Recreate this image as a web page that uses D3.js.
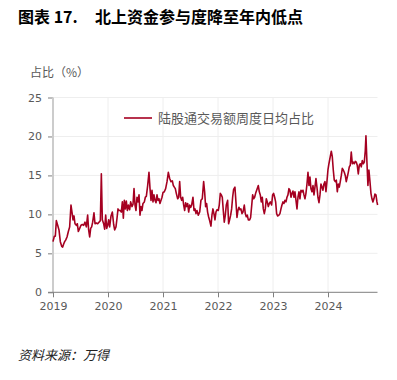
<!DOCTYPE html>
<html lang="zh-CN">
<head>
<meta charset="UTF-8">
<title>北上资金参与度降至年内低点</title>
<script src="https://cdn.jsdelivr.net/npm/d3@7/dist/d3.min.js"></script>
<style>
  html, body { margin: 0; padding: 0; background: #fff; }
  svg { display: block; }
  .tick text { font-family: "DejaVu Sans", sans-serif; font-size: 11px; fill: #595959; }
</style>
</head>
<body>
<svg id="chart" width="397" height="380"></svg>
<script>
// 年份标签
var yearTicks = [2019, 2020, 2021, 2022, 2023, 2024]
var yTicks = [0, 5, 10, 15, 20, 25]

// 周度时间（距 2019 年初的年数）
var tYears = [
  0.000, 0.024, 0.042, 0.061, 0.085, 0.109, 0.133, 0.158, 0.176, 0.194,
  0.212, 0.230, 0.255, 0.279, 0.303, 0.327, 0.345, 0.364, 0.382, 0.400,
  0.424, 0.442, 0.461, 0.485, 0.509, 0.533, 0.558, 0.582, 0.606, 0.630,
  0.648, 0.667, 0.685, 0.703, 0.721, 0.745, 0.764, 0.788, 0.812, 0.836,
  0.861, 0.879, 0.897, 0.921, 0.939, 0.958, 0.976, 0.994, 1.012, 1.030,
  1.055, 1.079, 1.103, 1.121, 1.145, 1.164, 1.182, 1.200, 1.224, 1.242,
  1.261, 1.279, 1.297, 1.315, 1.333, 1.352, 1.370, 1.394, 1.412, 1.436,
  1.455, 1.473, 1.491, 1.509, 1.527, 1.545, 1.564, 1.582, 1.600, 1.618,
  1.636, 1.661, 1.679, 1.697, 1.721, 1.745, 1.764, 1.782, 1.800, 1.818,
  1.836, 1.855, 1.873, 1.891, 1.909, 1.927, 1.945, 1.964, 1.982, 2.000,
  2.024, 2.048, 2.073, 2.097, 2.121, 2.145, 2.170, 2.188, 2.206, 2.224,
  2.242, 2.267, 2.285, 2.303, 2.321, 2.339, 2.358, 2.376, 2.394, 2.412,
  2.430, 2.448, 2.467, 2.485, 2.503, 2.521, 2.545, 2.564, 2.582, 2.600,
  2.618, 2.642, 2.667, 2.690, 2.714, 2.739, 2.757, 2.775, 2.793, 2.811,
  2.829, 2.848, 2.872, 2.890, 2.908, 2.926, 2.945, 2.963, 2.981, 3.005,
  3.023, 3.042, 3.060, 3.078, 3.096, 3.114, 3.133, 3.151, 3.175, 3.193,
  3.211, 3.230, 3.248, 3.266, 3.284, 3.308, 3.326, 3.345, 3.363, 3.381,
  3.399, 3.417, 3.436, 3.454, 3.478, 3.496, 3.514, 3.533, 3.551, 3.575,
  3.593, 3.611, 3.630, 3.648, 3.666, 3.684, 3.708, 3.733, 3.751, 3.769,
  3.787, 3.805, 3.824, 3.842, 3.860, 3.878, 3.896, 3.915, 3.933, 3.951,
  3.975, 3.993, 4.011, 4.030, 4.048, 4.066, 4.084, 4.108, 4.126, 4.145,
  4.163, 4.181, 4.199, 4.217, 4.236, 4.254, 4.272, 4.290, 4.308, 4.327,
  4.345, 4.363, 4.381, 4.399, 4.418, 4.436, 4.454, 4.472, 4.490, 4.508,
  4.527, 4.545, 4.563, 4.581, 4.599, 4.618, 4.636, 4.654, 4.672, 4.690,
  4.708, 4.727, 4.745, 4.763, 4.781, 4.799, 4.817, 4.836, 4.854, 4.872,
  4.890, 4.908, 4.926, 4.945, 4.963, 4.981, 4.999, 5.017, 5.041, 5.060,
  5.078, 5.096, 5.114, 5.132, 5.151, 5.169, 5.187, 5.205, 5.223, 5.242,
  5.260, 5.278, 5.296, 5.314, 5.332, 5.351, 5.369, 5.387, 5.405, 5.423,
  5.442, 5.460, 5.478, 5.496, 5.514, 5.532, 5.551, 5.569, 5.587, 5.605,
  5.623, 5.642, 5.660, 5.678, 5.690, 5.708, 5.726, 5.744, 5.763, 5.781,
  5.799, 5.817, 5.835, 5.853, 5.872, 5.890, 5.902
]

// 陆股通交易额周度日均占比（%）
var shareVals = [
  6.5, 7.2, 7.2, 9.2, 8.6, 8.0, 6.5, 5.9, 5.8, 6.2,
  6.5, 6.7, 7.1, 7.8, 8.4, 11.2, 10.3, 9.3, 9.8, 8.8,
  8.6, 8.8, 7.8, 8.2, 8.6, 8.7, 8.6, 9.0, 8.4, 9.9,
  8.0, 7.1, 8.2, 8.4, 9.0, 10.2, 8.8, 8.9, 8.8, 9.0,
  9.2, 15.2, 9.3, 8.8, 8.1, 9.9, 8.2, 8.6, 9.3, 8.4,
  9.8, 10.3, 8.7, 8.0, 8.4, 9.5, 10.7, 10.5, 10.5, 10.3,
  11.6, 9.5, 11.8, 10.7, 11.7, 10.5, 11.2, 10.6, 11.6, 11.0,
  11.3, 13.3, 11.2, 10.5, 12.2, 11.6, 12.5, 9.9, 11.0, 10.5,
  11.4, 11.6, 12.2, 12.3, 13.7, 15.4, 13.3, 11.8, 13.1, 11.6,
  12.5, 11.8, 11.5, 12.5, 11.8, 12.0, 11.4, 11.8, 12.2, 12.8,
  12.9, 13.3, 14.2, 15.4, 14.6, 14.2, 14.3, 13.7, 13.5, 13.3,
  12.7, 12.0, 12.2, 14.2, 12.2, 11.8, 12.2, 11.2, 10.5, 11.5,
  11.0, 11.4, 10.3, 11.2, 10.9, 11.2, 12.2, 10.5, 10.7, 10.1,
  10.5, 9.9, 10.3, 11.8, 12.0, 14.2, 12.9, 11.0, 11.4, 10.3,
  9.7, 9.2, 8.5, 9.9, 10.7, 10.1, 9.3, 10.3, 10.6, 10.5,
  11.2, 12.7, 12.5, 12.2, 10.5, 9.0, 9.9, 11.2, 11.8, 8.8,
  9.3, 9.9, 10.7, 12.2, 13.2, 13.5, 11.6, 9.6, 10.5, 10.9,
  10.6, 10.7, 10.1, 10.3, 11.2, 10.1, 9.7, 9.9, 9.3, 9.3,
  9.6, 11.0, 12.5, 12.0, 12.2, 12.7, 13.2, 13.7, 12.9, 12.5,
  11.6, 12.2, 10.7, 10.1, 10.7, 12.0, 11.6, 11.0, 11.4, 11.6,
  11.2, 12.5, 12.7, 12.2, 11.6, 10.1, 9.8, 9.9, 10.1, 10.7,
  11.2, 11.6, 11.4, 11.8, 11.6, 12.2, 12.5, 13.3, 13.1, 12.2,
  12.7, 13.0, 12.2, 12.9, 11.8, 10.7, 12.2, 12.9, 12.0, 13.1,
  12.9, 13.1, 12.5, 12.0, 12.7, 13.9, 15.4, 13.7, 14.8, 13.3,
  12.9, 13.7, 12.5, 13.5, 14.6, 13.5, 12.2, 11.5, 12.5, 13.9,
  13.5, 13.1, 13.9, 14.2, 12.9, 14.2, 15.7, 16.5, 17.4, 18.1,
  17.4, 15.7, 14.4, 14.2, 14.4, 12.9, 13.9, 13.5, 14.2, 15.0,
  15.9, 15.7, 15.4, 15.0, 14.2, 14.8, 15.4, 16.1, 16.3, 18.0,
  16.5, 16.7, 16.5, 16.8, 16.7, 16.3, 15.2, 16.3, 16.5, 16.1,
  16.9, 16.5, 16.7, 18.2, 20.1, 16.7, 13.7, 15.7, 14.2, 12.7,
  12.0, 11.6, 12.0, 12.6, 12.5, 11.6, 11.2
]

var seriesName = '陆股通交易额周度日均占比'

var svg = d3.select('#chart')
var plotLeft = 53, plotRight = 377.5, plotTop = 97.5, plotBottom = 292.3

var x = d3.scaleLinear().domain([2019, 2019 + (plotRight - plotLeft) / 55]).range([plotLeft, plotRight])
var y = d3.scaleLinear().domain([0, 25]).range([plotBottom, plotTop])

var data = tYears.map(function (t, i) { return { year: 2019 + t, v: shareVals[i] } })

// 网格线
svg.append('g').selectAll('line')
  .data(yearTicks.slice(1)).enter().append('line')
  .attr('x1', d => x(d)).attr('x2', d => x(d))
  .attr('y1', plotTop).attr('y2', plotBottom)
  .attr('stroke', '#eeeeee').attr('stroke-width', 1)
svg.append('g').selectAll('line')
  .data(yTicks.slice(1)).enter().append('line')
  .attr('x1', plotLeft).attr('x2', plotRight)
  .attr('y1', d => y(d)).attr('y2', d => y(d))
  .attr('stroke', '#eeeeee').attr('stroke-width', 1)

// y 轴
var yAxis = svg.append('g')
  .attr('transform', 'translate(' + plotLeft + ',0)')
  .call(d3.axisLeft(y).tickValues(yTicks).tickSize(5).tickPadding(6))
yAxis.select('.domain').remove()
yAxis.selectAll('.tick line').attr('stroke', '#7f7f7f')
svg.append('line')
  .attr('x1', plotLeft).attr('x2', plotLeft).attr('y1', plotTop).attr('y2', plotBottom)
  .attr('stroke', '#cccccc').attr('stroke-width', 2)

// x 轴
var xAxis = svg.append('g')
  .attr('transform', 'translate(0,' + plotBottom + ')')
  .call(d3.axisBottom(x).tickValues(yearTicks).tickFormat(d3.format('d')).tickSize(5).tickPadding(5))
xAxis.select('.domain').remove()
xAxis.selectAll('.tick line').attr('stroke', '#7f7f7f')
svg.append('line')
  .attr('x1', plotLeft - 5).attr('x2', plotRight).attr('y1', plotBottom).attr('y2', plotBottom)
  .attr('stroke', '#7f7f7f').attr('stroke-width', 1)

// 折线
var line = d3.line().x(d => x(d.year)).y(d => y(d.v))
svg.append('path')
  .datum(data)
  .attr('d', line)
  .attr('fill', 'none')
  .attr('stroke', '#a50021')
  .attr('stroke-width', 1.6)
  .attr('stroke-linejoin', 'round')

// 图例
svg.append('line')
  .attr('x1', 124).attr('x2', 152).attr('y1', 118).attr('y2', 118)
  .attr('stroke', '#a50021').attr('stroke-width', 1.6)
svg.append('text')
  .attr('x', 158).attr('y', 123)
  .attr('font-family', '"Noto Sans CJK SC", sans-serif')
  .attr('font-size', 13).attr('fill', '#595959')
  .text(seriesName)

// 标题与单位
svg.append('text')
  .attr('x', 18).attr('y', 23)
  .attr('font-family', '"Noto Sans CJK SC", sans-serif')
  .attr('font-size', 16).attr('font-weight', 'bold').attr('fill', '#000')
  .text('图表 17.')
svg.append('text')
  .attr('x', 95).attr('y', 23)
  .attr('font-family', '"Noto Sans CJK SC", sans-serif')
  .attr('font-size', 16).attr('font-weight', 'bold').attr('fill', '#000')
  .text('北上资金参与度降至年内低点')
svg.append('text')
  .attr('x', 30).attr('y', 77)
  .attr('font-family', '"Noto Sans CJK SC", sans-serif')
  .attr('font-size', 12).attr('fill', '#595959')
  .text('占比（%）')

// 资料来源
svg.append('text')
  .attr('x', 18).attr('y', 360)
  .attr('font-family', '"Noto Sans CJK SC", sans-serif')
  .attr('font-size', 13).attr('font-style', 'italic').attr('fill', '#222')
  .text('资料来源：万得')
</script>
</body>
</html>
